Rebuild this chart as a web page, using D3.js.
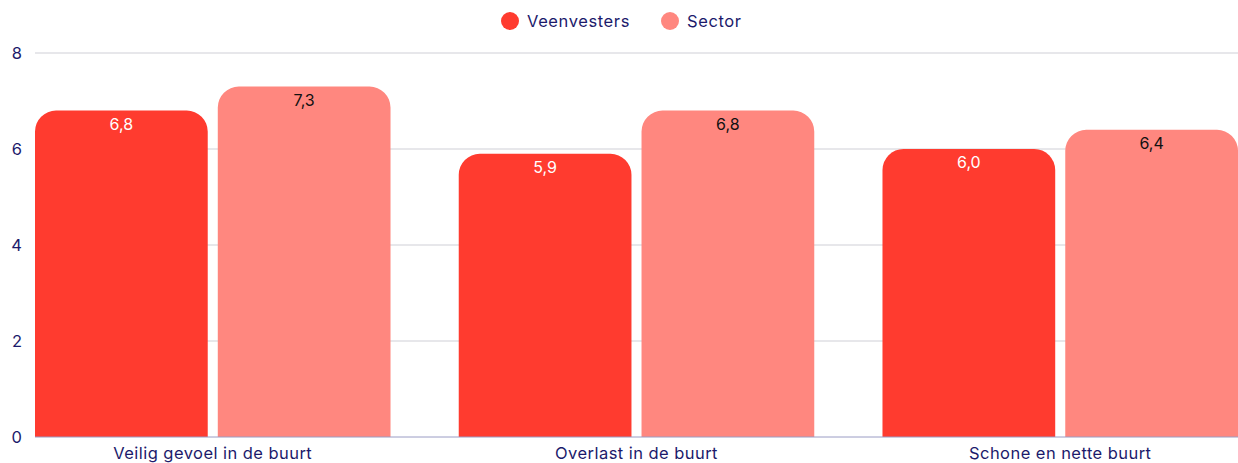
<!DOCTYPE html>
<html>
<head>
<meta charset="utf-8">
<script src="https://cdn.jsdelivr.net/npm/d3@7"></script>
<style>
  body { margin: 0; background: #fff; }
  svg text { font-family: Inter, "Noto Sans", sans-serif; }
</style>
</head>
<body>
<div id="chart"></div>
<script>
//Chart data
let categories = ['Veilig gevoel in de buurt', 'Overlast in de buurt', 'Schone en nette buurt'];
let series_names = ['Veenvesters', 'Sector'];
let veenvesters_values = [6.8, 5.9, 6.0];
let sector_values = [7.3, 6.8, 6.4];
let y_ticks = [0, 2, 4, 6, 8];

let colors = {Veenvesters: '#ff3b2f', Sector: '#ff877f'};
let label_colors = {Veenvesters: '#ffffff', Sector: '#111111'};
let text_color = '#1c1a6b';

let width = 1238, height = 463;
let margin = {left: 35, right: 0, top: 53, bottom: 26};

let svg = d3.select('#chart').append('svg').attr('width', width).attr('height', height);

//Scales
let x0 = d3.scaleBand().domain(categories).range([margin.left, width - margin.right])
    .paddingInner(0.161).paddingOuter(0);
let x1 = d3.scaleBand().domain(series_names).range([0, x0.bandwidth()]).paddingInner(0.055);
let y = d3.scaleLinear().domain([0, 8]).range([height - margin.bottom, margin.top]);

//Gridlines
svg.append('g').selectAll('line').data(y_ticks.filter(t => t > 0)).enter().append('line')
    .attr('x1', margin.left).attr('x2', width)
    .attr('y1', d => y(d)).attr('y2', d => y(d))
    .attr('stroke', '#cfcfd6').attr('stroke-width', 1);

//Y tick labels
svg.append('g').selectAll('text').data(y_ticks).enter().append('text')
    .attr('x', 22).attr('y', d => y(d) + 6)
    .attr('text-anchor', 'end').attr('font-size', 16.5).attr('fill', text_color)
    .text(d => d);

//Rounded-top bar path
function barPath(x, yTop, w, h, r) {
    r = Math.min(r, h, w / 2);
    return 'M' + x + ',' + (yTop + h) +
        'V' + (yTop + r) +
        'A' + r + ',' + r + ' 0 0 1 ' + (x + r) + ',' + yTop +
        'H' + (x + w - r) +
        'A' + r + ',' + r + ' 0 0 1 ' + (x + w) + ',' + (yTop + r) +
        'V' + (yTop + h) + 'Z';
}

let rows = categories.map((c, i) => ({category: c, Veenvesters: veenvesters_values[i], Sector: sector_values[i]}));

let groups = svg.selectAll('.group').data(rows).enter().append('g')
    .attr('class', 'group')
    .attr('transform', d => 'translate(' + x0(d.category) + ',0)');

let bars = groups.selectAll('.bar').data(d => series_names.map(s => ({series: s, value: d[s]})))
    .enter().append('g').attr('class', 'bar');

bars.append('path')
    .attr('d', d => barPath(x1(d.series), y(d.value), x1.bandwidth(), y(0) - y(d.value), 21))
    .attr('fill', d => colors[d.series]);

bars.append('text')
    .attr('x', d => x1(d.series) + x1.bandwidth() / 2)
    .attr('y', d => y(d.value) + 19)
    .attr('text-anchor', 'middle').attr('font-size', 16)
    .attr('fill', d => label_colors[d.series])
    .text(d => d3.format('.1f')(d.value).replace('.', ','));

//Baseline
svg.append('line').attr('x1', margin.left).attr('x2', width)
    .attr('y1', y(0)).attr('y2', y(0))
    .attr('stroke', '#9a9cc4').attr('stroke-width', 1);

//Category labels
svg.append('g').selectAll('text').data(categories).enter().append('text')
    .attr('x', d => x0(d) + x0.bandwidth() / 2).attr('y', 459)
    .attr('text-anchor', 'middle').attr('font-size', 16.5).attr('letter-spacing', 0.45)
    .attr('fill', text_color)
    .text(d => d);

//Legend
let legend_x = [510, 670];
let legend = svg.selectAll('.legend').data(series_names).enter().append('g')
    .attr('class', 'legend')
    .attr('transform', (d, i) => 'translate(' + legend_x[i] + ',21)');
legend.append('circle').attr('r', 9).attr('fill', d => colors[d]);
legend.append('text').attr('x', 17).attr('y', 6)
    .attr('font-size', 16.5).attr('letter-spacing', 0.6)
    .attr('fill', text_color).text(d => d);
</script>
</body>
</html>
